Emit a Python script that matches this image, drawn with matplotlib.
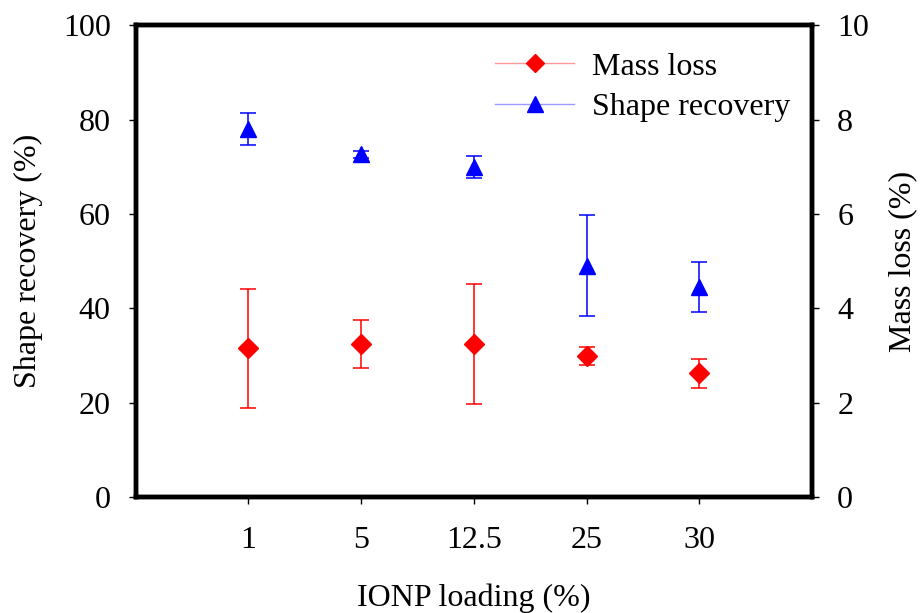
"""Shape recovery and mass loss vs IONP loading."""

import matplotlib.pyplot as plt
from matplotlib.lines import Line2D

plt.rcParams["font.family"] = ["Liberation Serif", "DejaVu Serif"]

loading_labels = ["1", "5", "12.5", "25", "30"]
shape_recovery = [78.0, 72.6, 70.0, 49.0, 44.6]
shape_err = [3.4, 0.8, 2.3, 10.7, 5.3]
mass_loss = [3.15, 3.24, 3.24, 3.0, 2.62]
mass_err = [1.27, 0.51, 1.27, 0.19, 0.3]

fig = plt.figure(figsize=(9.23, 6.13), dpi=100)
ax = fig.add_axes([0.147, 0.189, 0.733, 0.77])
ax2 = ax.twinx()

x = list(range(1, len(loading_labels) + 1))

ax.errorbar(x, shape_recovery, yerr=shape_err, fmt="^", color="blue",
            ecolor="blue", markersize=12, capsize=5.5, elinewidth=1.1,
            capthick=1.1, linestyle="none", zorder=3)
ax2.errorbar(x, mass_loss, yerr=mass_err, fmt="D", color="red",
             ecolor="red", markersize=10, capsize=5.5, elinewidth=1.1,
             capthick=1.1, linestyle="none", zorder=3)

ax.set_xlim(0, 6)
ax.set_ylim(0, 100)
ax2.set_ylim(0, 10)
ax.set_xticks(x)
ax.set_xticklabels(loading_labels)
ax.set_yticks(range(0, 101, 20))
ax2.set_yticks(range(0, 11, 2))

fs = 23
for a in (ax, ax2):
    a.tick_params(axis="y", labelsize=fs, direction="out", length=5,
                  width=1, pad=13)
    a.tick_params(axis="x", labelsize=fs, direction="out", length=5,
                  width=1, pad=16)
    for sp in a.spines.values():
        sp.set_linewidth(3.2)

ax.set_xlabel("IONP loading (%)", fontsize=fs, labelpad=20)
ax.set_ylabel("Shape recovery (%)", fontsize=fs, labelpad=14)
ax2.set_ylabel("Mass loss (%)", fontsize=fs, labelpad=14)

handles = [
    Line2D([], [], color=(1, 0.6, 0.6), lw=1, marker="D", markersize=9,
           markerfacecolor="red", markeredgecolor="red"),
    Line2D([], [], color=(0.6, 0.6, 1), lw=1, marker="^", markersize=12,
           markerfacecolor="blue", markeredgecolor="blue"),
]
ax2.legend(handles, ["Mass loss", "Shape recovery"], loc="upper right",
           bbox_to_anchor=(1.0, 0.99), frameon=False, fontsize=fs,
           handlelength=2.45, handletextpad=0.56, labelspacing=0.35,
           borderaxespad=0.3)

fig.savefig("out.png", dpi=100)
